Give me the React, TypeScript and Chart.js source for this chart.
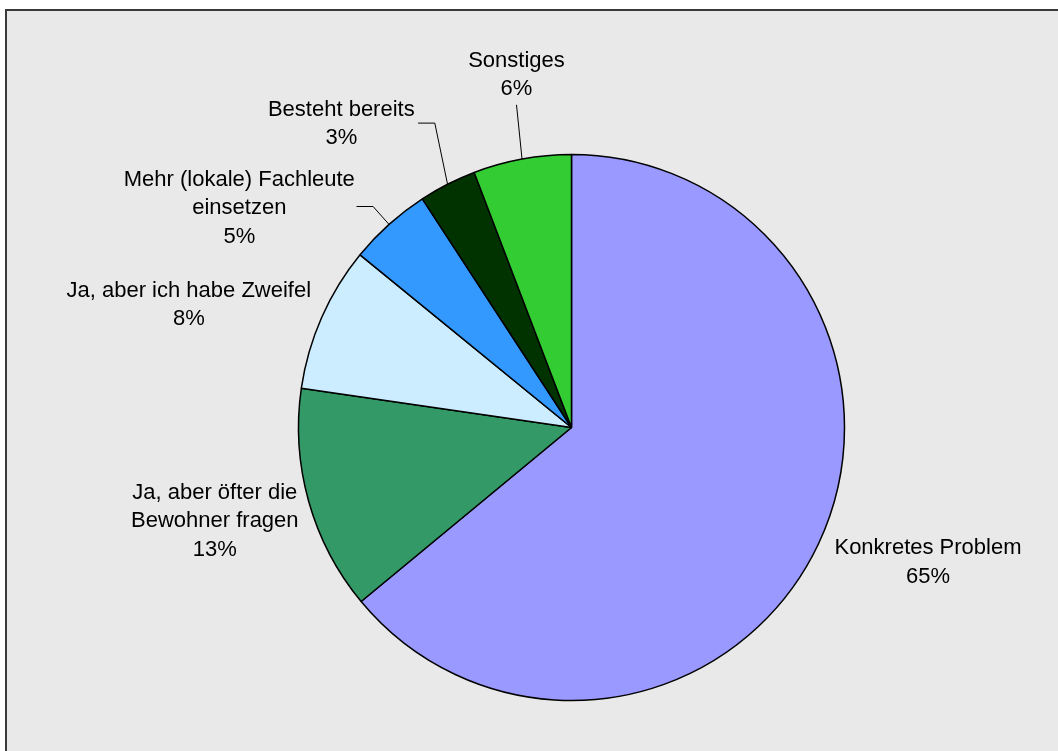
import React, { useEffect, useRef } from "react";
import { Chart, registerables } from "chart.js";

Chart.register(...registerables);

// ---- data ----
const categories = [
  "Konkretes Problem",
  "Ja, aber öfter die Bewohner fragen",
  "Ja, aber ich habe Zweifel",
  "Mehr (lokale) Fachleute einsetzen",
  "Besteht bereits",
  "Sonstiges",
];
const shares = [64.0, 13.3, 8.6, 4.9, 3.4, 5.8];
const percentLabels = ["65%", "13%", "8%", "5%", "3%", "6%"];
const labelLines = [
  ["Konkretes Problem"],
  ["Ja, aber öfter die", "Bewohner fragen"],
  ["Ja, aber ich habe Zweifel"],
  ["Mehr (lokale) Fachleute", "einsetzen"],
  ["Besteht bereits"],
  ["Sonstiges"],
];
const sliceColors = ["#9999FF", "#339966", "#CCECFF", "#3399FF", "#003300", "#33CC33"];

// ---- label layout (offsets from pie centre, px) ----
type LabelPos = { dx: number; dy: number; leader?: number[][] };
const labelLayout: LabelPos[] = [
  { dx: 356.5, dy: 120.8 },
  { dx: -356.7, dy: 65.3 },
  { dx: -382.7, dy: -137 },
  { dx: -332.2, dy: -247.7, leader: [[-215, -221], [-198.4, -221]] },
  { dx: -230.2, dy: -317.7, leader: [[-153.4, -304.4], [-136.7, -304.4]] },
  { dx: -55, dy: -367, leader: [[-55, -322.7]] },
];
const LINE_H = 28.6;

const framePlugin = {
  id: "frame",
  beforeDraw(chart: any) {
    const { ctx, width, height } = chart;
    ctx.save();
    ctx.fillStyle = "#ffffff";
    ctx.fillRect(0, 0, width, height);
    ctx.fillStyle = "#E9E9E9";
    ctx.fillRect(5, 9, width - 5, height - 9);
    ctx.strokeStyle = "#3a3a3a";
    ctx.lineWidth = 2;
    ctx.beginPath();
    ctx.moveTo(6, height);
    ctx.lineTo(6, 10);
    ctx.lineTo(width, 10);
    ctx.stroke();
    ctx.restore();
  },
};

const labelPlugin = {
  id: "pieLabels",
  afterDraw(chart: any) {
    const { ctx } = chart;
    const meta = chart.getDatasetMeta(0);
    ctx.save();
    ctx.font = '22px "Liberation Sans", Arial, sans-serif';
    ctx.fillStyle = "#000";
    ctx.textAlign = "center";
    ctx.textBaseline = "middle";
    meta.data.forEach((arc: any, i: number) => {
      const { x, y, startAngle, endAngle, outerRadius } = arc.getProps(
        ["x", "y", "startAngle", "endAngle", "outerRadius"],
        true
      );
      const pos = labelLayout[i];
      const lines = [...labelLines[i], percentLabels[i]];
      lines.forEach((t, k) => {
        ctx.fillText(t, x + pos.dx, y + pos.dy + k * LINE_H);
      });
      if (pos.leader) {
        const mid = (startAngle + endAngle) / 2;
        ctx.strokeStyle = "#000";
        ctx.lineWidth = 1;
        ctx.beginPath();
        pos.leader.forEach((p, k) => {
          if (k === 0) ctx.moveTo(x + p[0], y + p[1]);
          else ctx.lineTo(x + p[0], y + p[1]);
        });
        ctx.lineTo(x + Math.cos(mid) * outerRadius, y + Math.sin(mid) * outerRadius);
        ctx.stroke();
      }
    });
    ctx.restore();
  },
};

export default function App() {
  const ref = useRef<HTMLCanvasElement>(null);
  useEffect(() => {
    if (!ref.current) return;
    const chart = new Chart(ref.current, {
      type: "pie",
      data: {
        labels: categories,
        datasets: [
          {
            data: shares,
            backgroundColor: sliceColors,
            borderColor: "#000",
            borderWidth: 1.5,
          },
        ],
      },
      options: {
        responsive: false,
        animation: false,
        radius: 273,
        layout: { padding: { left: 85, top: 104, right: 0, bottom: 0 } },
        plugins: { legend: { display: false }, tooltip: { enabled: false } },
      } as any,
      plugins: [framePlugin, labelPlugin],
    });
    return () => chart.destroy();
  }, []);
  return (
    <div style={{ position: "fixed", left: 0, top: 0, width: 1058, height: 751 }}>
      <canvas ref={ref} width={1058} height={751} style={{ display: "block" }} />
    </div>
  );
}
